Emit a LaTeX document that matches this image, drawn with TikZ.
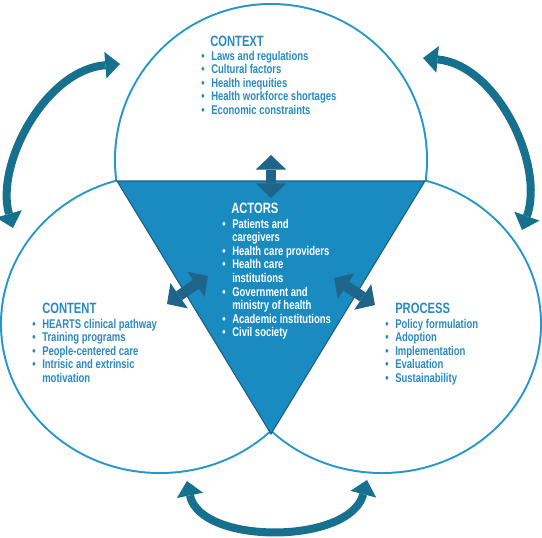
\documentclass[tikz,border=0pt]{standalone}
\usepackage{fontspec}
\setmainfont{Liberation Sans}[FakeStretch=0.75]
\usetikzlibrary{arrows.meta}
\definecolor{circ}{HTML}{2596CC}
\definecolor{trif}{HTML}{1A8BC0}
\definecolor{tril}{HTML}{1D5E80}
\definecolor{arrf}{HTML}{1F6489}
\definecolor{carr}{HTML}{18708F}
\definecolor{txt}{HTML}{2A8AC0}
\newcommand{\bul}{\makebox[7.5pt][l]{•}}
\newcommand{\cont}{\hspace*{7.5pt}}
\tikzset{
  ring/.style={draw=circ, line width=3pt},
  ringfill/.style={fill=white, draw=none},
  tri/.style={fill=trif, draw=tril, line width=0.8pt, line join=miter},
  straightarr/.style={draw=arrf, line width=8pt,
     {Triangle[width=23pt,length=11pt,line width=0pt]}-{Triangle[width=23pt,length=11pt,line width=0pt]}, arrf},
  curvearr/.style={draw=carr, line width=6pt,
     {Triangle[width=20pt,length=11pt,line width=0pt]}-{Triangle[width=20pt,length=11pt,line width=0pt]}, carr},
  head/.style={anchor=base west, inner sep=0pt, font=\bfseries\fontsize{11.2pt}{12pt}\selectfont},
  items/.style={anchor=base west, inner sep=0pt, font=\bfseries\fontsize{9.5pt}{10.2pt}\selectfont},
}
\begin{document}
\begin{tikzpicture}[x=0.75pt,y=-0.75pt]
\useasboundingbox (0,0) rectangle (542,537);
% circles (outer half of stroke stays visible)
\draw[ring] (271,160) circle[radius=155];
\draw[ring] (160,324) ellipse[x radius=158, y radius=148];
\draw[ring] (382,324) ellipse[x radius=158, y radius=148];
\fill[ringfill] (271,160) circle[radius=155];
\fill[ringfill] (160,324) ellipse[x radius=158, y radius=148];
\fill[ringfill] (382,324) ellipse[x radius=158, y radius=148];
% triangle
\draw[tri] (117,181) -- (425,181) -- (271,434) -- cycle;
% straight double arrows
\coordinate (va) at (271,155);
\coordinate (vb) at (271,198);
\coordinate (la) at (167,304);
\coordinate (lb) at (208,276);
\coordinate (ra) at (334,278);
\coordinate (rb) at (375,305);
\draw[straightarr] (va) -- (vb);
\draw[straightarr] (la) -- (lb);
\draw[straightarr] (ra) -- (rb);
% curved arrows
\coordinate (tla) at (120,64);
\coordinate (tlb) at (13,228);
\coordinate (tra) at (423,58);
\coordinate (trb) at (522,230);
\coordinate (ba) at (187,481);
\coordinate (bb) at (367,480);
\draw[curvearr] (tla) .. controls (45,70) and (-5,165) .. (tlb);
\draw[curvearr] (tra) .. controls (497,65) and (545,165) .. (trb);
\draw[curvearr] (ba) .. controls (200,545) and (350,545) .. (bb);
% texts
\node[head, text=txt] (hctx) at (210,46) {CONTEXT};
\node[items, text=txt] (lctx) at (201,60) {\begin{tabular}[t]{@{}l@{}}
\bul Laws and regulations\\
\bul Cultural factors\\
\bul Health inequities\\
\bul Health workforce shortages\\
\bul Economic constraints\end{tabular}};
\node[head, text=white] (hact) at (231,213) {ACTORS};
\node[items, text=white] (lact) at (222,228) {\begin{tabular}[t]{@{}l@{}}
\bul Patients and\\
\cont caregivers\\
\bul Health care providers\\
\bul Health care\\
\cont institutions\\
\bul Government and\\
\cont ministry of health\\
\bul Academic institutions\\
\bul Civil society\end{tabular}};
\node[head, text=txt] (hcon) at (42,313) {CONTENT};
\node[items, text=txt] (lcon) at (32,328) {\begin{tabular}[t]{@{}l@{}}
\bul HEARTS clinical pathway\\
\bul Training programs\\
\bul People-centered care\\
\bul Intrisic and extrinsic\\
\cont motivation\end{tabular}};
\node[head, text=txt] (hpro) at (395,313) {PROCESS};
\node[items, text=txt] (lpro) at (385,328) {\begin{tabular}[t]{@{}l@{}}
\bul Policy formulation\\
\bul Adoption\\
\bul Implementation\\
\bul Evaluation\\
\bul Sustainability\end{tabular}};
\end{tikzpicture}
\end{document}
